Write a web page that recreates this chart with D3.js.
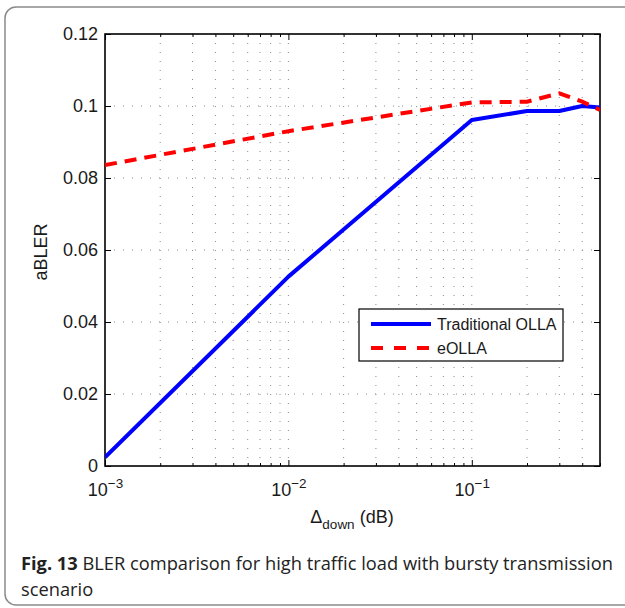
<!DOCTYPE html>
<html><head><meta charset="utf-8">
<script src="https://cdn.jsdelivr.net/npm/d3@7"></script>
<style>body{margin:0;background:#fff}</style>
</head><body><svg id="c" width="625" height="608"></svg>
<script>
const xValues = [0.001, 0.01, 0.1, 0.2, 0.3, 0.4, 0.5];
const traditionalOLLA = [0.0024, 0.0526, 0.0961, 0.0986, 0.0986, 0.1000, 0.0996];
const eOLLA = [0.0836, 0.0930, 0.1010, 0.1012, 0.1035, 0.1012, 0.0989];
const seriesNames = ["Traditional OLLA", "eOLLA"];
const xMajorTicks = [0.001, 0.01, 0.1];
const xTickExponents = ["\u22123", "\u22122", "\u22121"];
const yTicks = [0, 0.02, 0.04, 0.06, 0.08, 0.1, 0.12];
const yTickLabels = ["0", "0.02", "0.04", "0.06", "0.08", "0.1", "0.12"];

const svg = d3.select("#c");
const L = 105, R = 600, T = 34, B = 466;
const x = d3.scaleLog().domain([0.001, 0.5]).range([L, R]);
const y = d3.scaleLinear().domain([0, 0.12]).range([B, T]);
const font = "'Liberation Sans', Arial, sans-serif";

// outer frame
svg.append("rect").attr("x", 5).attr("y", 7).attr("width", 660).attr("height", 598)
  .attr("rx", 11).attr("fill", "none").attr("stroke", "#8a8a8a").attr("stroke-width", 1.5);

const allX = x.ticks().filter(d => d <= 0.5 + 1e-9);
const minorX = allX.filter(d => !xMajorTicks.some(m => Math.abs(m - d) < 1e-12));

// grid
const grid = svg.append("g").attr("stroke", "#8c8c8c").attr("stroke-width", 1).attr("stroke-dasharray", "1,8");
grid.selectAll("line.v").data(allX.filter(d => x(d) > L + 1 && x(d) < R - 1)).join("line")
  .attr("x1", d => x(d)).attr("x2", d => x(d)).attr("y1", T).attr("y2", B);
grid.selectAll("line.h").data(yTicks.filter(d => d > 0 && d < 0.12)).join("line")
  .attr("x1", L).attr("x2", R).attr("y1", d => y(d)).attr("y2", d => y(d));

// axes
function styleAxis(g) {
  g.select(".domain").remove();
  g.selectAll(".tick line").attr("stroke", "#000").attr("stroke-width", 1);
  g.selectAll("text").attr("font-family", font).attr("font-size", 18).attr("fill", "#1a1a1a");
}
svg.append("g").attr("transform", `translate(0,${B})`)
  .call(d3.axisBottom(x).tickValues(minorX).tickSize(-3).tickFormat("")).call(styleAxis);
svg.append("g").attr("transform", `translate(0,${T})`)
  .call(d3.axisTop(x).tickValues(minorX).tickSize(-3).tickFormat("")).call(styleAxis);
svg.append("g").attr("transform", `translate(0,${T})`)
  .call(d3.axisTop(x).tickValues(xMajorTicks).tickSize(-6).tickFormat("")).call(styleAxis);
const xb = svg.append("g").attr("transform", `translate(0,${B})`)
  .call(d3.axisBottom(x).tickValues(xMajorTicks).tickSize(-6).tickPadding(17).tickFormat(() => "10"))
  .call(styleAxis);
xb.selectAll(".tick text").each(function(d, i) {
  d3.select(this).append("tspan").attr("font-size", 13.5).attr("dy", "-0.55em").text(xTickExponents[i]);
});
svg.append("g").attr("transform", `translate(${L},0)`)
  .call(d3.axisLeft(y).tickValues(yTicks).tickSize(-6).tickPadding(7).tickFormat((d, i) => yTickLabels[i]))
  .call(styleAxis);
svg.append("g").attr("transform", `translate(${R},0)`)
  .call(d3.axisRight(y).tickValues(yTicks).tickSize(-6).tickFormat("")).call(styleAxis);

// box
svg.append("rect").attr("x", L).attr("y", T).attr("width", R - L).attr("height", B - T)
  .attr("fill", "none").attr("stroke", "#000").attr("stroke-width", 1.6);

// lines
const clip = svg.append("clipPath").attr("id", "pc").append("rect")
  .attr("x", L).attr("y", T - 5).attr("width", R - L).attr("height", B - T + 10);
const line = d3.line().x((d, i) => x(xValues[i])).y(d => y(d));
svg.append("path").datum(traditionalOLLA).attr("d", line).attr("fill", "none")
  .attr("stroke", "#0000ff").attr("stroke-width", 4).attr("stroke-linejoin", "round")
  .attr("clip-path", "url(#pc)");
svg.append("path").datum(eOLLA).attr("d", line).attr("fill", "none")
  .attr("stroke", "#ff0000").attr("stroke-width", 4).attr("stroke-dasharray", "12,8")
  .attr("clip-path", "url(#pc)");

// legend
const lg = svg.append("g");
lg.append("rect").attr("x", 359).attr("y", 309).attr("width", 204).attr("height", 52)
  .attr("fill", "#fff").attr("stroke", "#000").attr("stroke-width", 1.2);
const legendStyles = [{c: "#0000ff", d: null}, {c: "#ff0000", d: "12,11"}];
seriesNames.forEach((n, i) => {
  const yy = 324 + i * 24;
  lg.append("line").attr("x1", 371).attr("x2", 431).attr("y1", yy).attr("y2", yy)
    .attr("stroke", legendStyles[i].c).attr("stroke-width", 4).attr("stroke-dasharray", legendStyles[i].d);
  lg.append("text").attr("x", 437).attr("y", yy + 5.5).attr("font-family", font).attr("font-size", 16)
    .attr("fill", "#1a1a1a").text(n);
});

// axis labels
const xl = svg.append("text").attr("x", 352).attr("y", 523).attr("text-anchor", "middle")
  .attr("font-family", font).attr("font-size", 18).attr("fill", "#1a1a1a");
xl.append("tspan").text("\u0394");
xl.append("tspan").attr("font-size", 13.5).attr("dy", 6).text("down");
xl.append("tspan").attr("dy", -6).text(" (dB)");
svg.append("text").attr("transform", "translate(47,252) rotate(-90)").attr("text-anchor", "middle")
  .attr("font-family", font).attr("font-size", 18).attr("fill", "#1a1a1a").text("aBLER");

// caption
const capFont = "'Open Sans', 'Noto Sans', sans-serif";
const c1 = svg.append("text").attr("x", 21).attr("y", 570).attr("font-family", capFont)
  .attr("font-size", 18).attr("fill", "#222");
c1.append("tspan").attr("font-weight", "bold").text("Fig. 13");
c1.append("tspan").text(" BLER comparison for high traffic load with bursty transmission");
const w = c1.node().getComputedTextLength();
const fs = 18 * 592 / w;
c1.attr("font-size", fs);
svg.append("text").attr("x", 21).attr("y", 596).attr("font-family", capFont)
  .attr("font-size", fs).attr("fill", "#222").text("scenario");
</script></body></html>
